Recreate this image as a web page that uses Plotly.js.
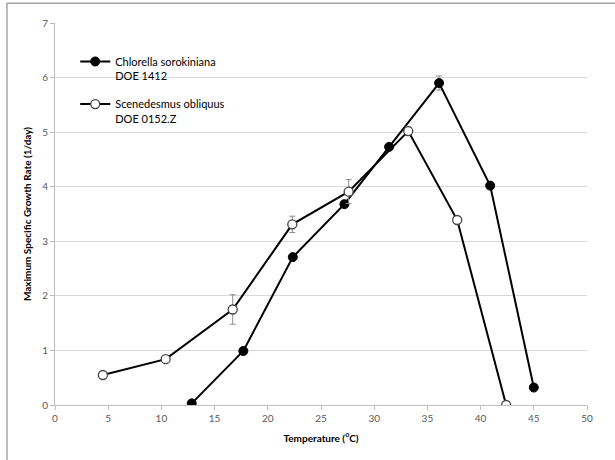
<!DOCTYPE html>
<html>
<head>
<meta charset="utf-8">
<script src="https://cdn.plot.ly/plotly-3.0.1.min.js"></script>
<style>html,body{margin:0;padding:0;background:#fff;}#chart{width:615px;height:460px;}</style>
</head>
<body>
<div id="chart"></div>
<script>
// Chlorella sorokiniana DOE 1412
var chlorellaTemp = [12.85, 17.7, 22.35, 27.2, 31.4, 36.1, 40.9, 45.0];
var chlorellaRate = [0.03, 0.99, 2.71, 3.68, 4.73, 5.9, 4.02, 0.32];
var chlorellaErr  = [0.03, 0.05, 0.05, 0.06, 0.06, 0.13, 0.05, 0.04];
// Scenedesmus obliquus DOE 0152.Z
var scenTemp = [4.5, 10.4, 16.7, 22.3, 27.6, 33.2, 37.8, 42.4];
var scenRate = [0.55, 0.84, 1.75, 3.31, 3.91, 5.02, 3.39, 0.0];
var scenErr  = [0.03, 0.05, 0.27, 0.15, 0.22, 0.08, 0.04, 0.02];

var seriesNames = ["Chlorella sorokiniana<br>DOE 1412", "Scenedesmus obliquus<br>DOE 0152.Z"];
var xTitle = "Temperature (<sup>o</sup>C)";
var yTitle = "Maximum Specific Growth Rate (1/day)";

var FONT = "Lato, 'Open Sans', sans-serif";

var traces = [
  {
    x: chlorellaTemp, y: chlorellaRate, name: seriesNames[0], legendgroup: "a",
    type: "scatter", mode: "lines+markers",
    line: {color: "#000000", width: 2},
    marker: {symbol: "circle", size: 9, color: "#000000", line: {color: "#000000", width: 1}},
    error_y: {type: "data", array: chlorellaErr, visible: true, color: "#8c8c8c", thickness: 1, width: 3}
  },
  {
    x: scenTemp, y: scenRate, name: seriesNames[1], legendgroup: "b",
    type: "scatter", mode: "lines+markers",
    line: {color: "#000000", width: 2},
    marker: {symbol: "circle", size: 9, color: "#ffffff", line: {color: "#444444", width: 1.3}},
    error_y: {type: "data", array: scenErr, visible: true, color: "#8c8c8c", thickness: 1, width: 3}
  }
];

var layout = {
  width: 615, height: 460,
  margin: {l: 55, r: 28, t: 23, b: 55},
  paper_bgcolor: "#ffffff", plot_bgcolor: "#ffffff",
  font: {family: FONT, size: 10, color: "#595959"},
  showlegend: true,
  legend: {
    x: 0.038, y: 0.935, xanchor: "left", yanchor: "top",
    bgcolor: "rgba(0,0,0,0)", valign: "top",
    traceorder: "grouped", tracegroupgap: 11,
    font: {family: FONT, size: 11, color: "#000000"}
  },
  xaxis: {
    range: [0, 50], dtick: 5, tick0: 0,
    showgrid: false, zeroline: false,
    showline: true, linecolor: "#bfbfbf", linewidth: 1,
    ticks: "outside", ticklen: 4, tickcolor: "#bfbfbf",
    tickfont: {family: FONT, size: 10, color: "#595959"},
    title: {text: xTitle, font: {family: FONT, size: 10, color: "#000000", weight: "bold"}, standoff: 11}
  },
  yaxis: {
    range: [0, 7], dtick: 1, tick0: 0,
    showgrid: true, gridcolor: "#d9d9d9", gridwidth: 1,
    zeroline: false,
    showline: true, linecolor: "#bfbfbf", linewidth: 1,
    ticks: "outside", ticklen: 4, tickcolor: "#bfbfbf",
    tickfont: {family: FONT, size: 10, color: "#595959"},
    title: {text: yTitle, font: {family: FONT, size: 10, color: "#000000", weight: "bold"}, standoff: 8}
  },
  shapes: [
    {type: "rect", xref: "paper", yref: "paper", x0: -0.0902, x1: 1.2, y0: -0.3, y1: 1.052,
     line: {color: "#a6a6a6", width: 1.5}, fillcolor: "rgba(0,0,0,0)", layer: "below"}
  ]
};

Plotly.newPlot("chart", traces, layout, {displayModeBar: false, staticPlot: true});
</script>
</body>
</html>
